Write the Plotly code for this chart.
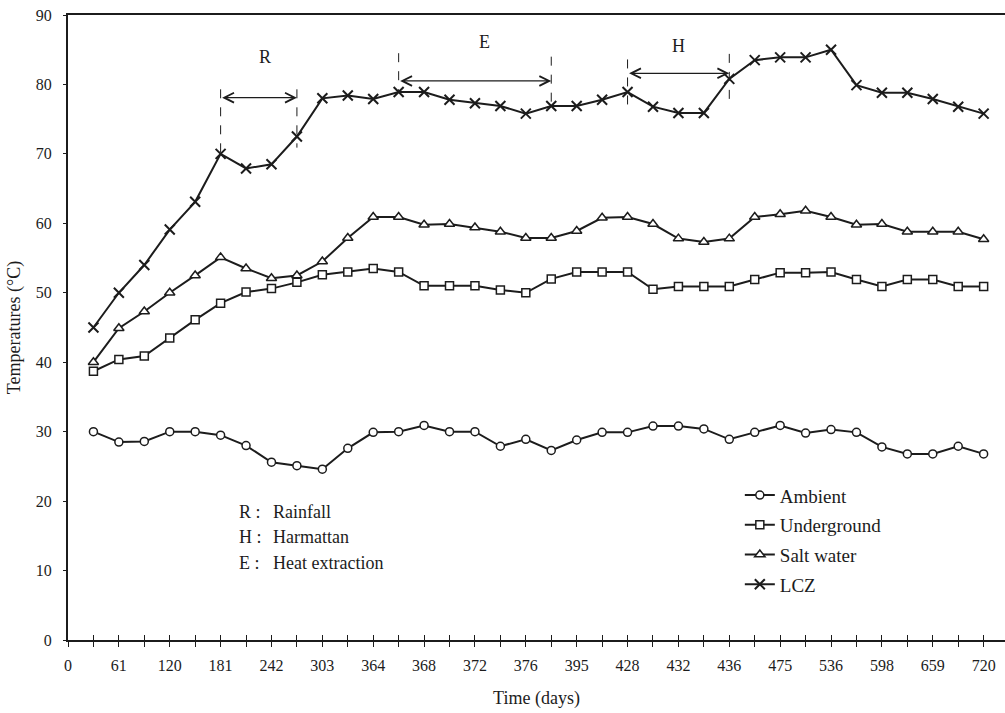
import plotly.graph_objects as go

# ---------------- data ----------------
day_labels = ["0", "61", "120", "181", "242", "303", "364", "368", "372", "376",
              "395", "428", "432", "436", "475", "536", "598", "659", "720"]

ambient = [30.0, 28.5, 28.6, 30.0, 30.0, 29.5, 28.0, 25.6, 25.1, 24.6, 27.6, 29.9,
           30.0, 30.9, 30.0, 30.0, 27.9, 28.9, 27.3, 28.8, 29.9, 29.9, 30.8, 30.8,
           30.4, 28.9, 29.9, 30.9, 29.8, 30.3, 29.9, 27.8, 26.8, 26.8, 27.9, 26.8]
underground = [38.7, 40.4, 40.9, 43.5, 46.1, 48.5, 50.1, 50.6, 51.5, 52.6, 53.0, 53.5,
               53.0, 51.0, 51.0, 51.0, 50.4, 50.0, 52.0, 53.0, 53.0, 53.0, 50.5, 50.9,
               50.9, 50.9, 51.9, 52.9, 52.9, 53.0, 51.9, 50.9, 51.9, 51.9, 50.9, 50.9]
salt_water = [40.0, 44.9, 47.3, 50.0, 52.5, 55.1, 53.5, 52.1, 52.5, 54.5, 57.9, 60.9,
              60.9, 59.8, 59.9, 59.4, 58.8, 57.9, 57.9, 58.9, 60.8, 60.9, 59.9, 57.8,
              57.3, 57.8, 60.9, 61.3, 61.8, 60.9, 59.8, 59.9, 58.8, 58.8, 58.8, 57.7]
lcz = [45.0, 50.0, 54.0, 59.1, 63.1, 70.0, 67.9, 68.5, 72.5, 78.0, 78.4, 77.9,
       78.9, 78.9, 77.8, 77.3, 76.9, 75.8, 76.9, 76.9, 77.8, 78.9, 76.8, 75.9,
       75.9, 80.8, 83.5, 83.9, 83.9, 85.0, 79.9, 78.8, 78.8, 77.9, 76.8, 75.8]

series_names = ["Ambient", "Underground", "Salt water", "LCZ"]

period_keys = ["R", "E", "H"]
period_start = [6, 13, 22]   # sample index where period begins
period_end = [9, 19, 26]     # sample index where period ends

note_keys = ["R", "H", "E"]
note_labels = ["Rainfall", "Harmattan", "Heat extraction"]

# ---------------- figure ----------------
FONT = "Liberation Serif"
INK = "#1c1c1c"

n_ticks = 2 * len(day_labels) - 1
tickvals = list(range(n_ticks))
ticktext = [day_labels[i // 2] if i % 2 == 0 else "" for i in tickvals]
xs = list(range(1, len(ambient) + 1))

fig = go.Figure()

styles = [
    dict(symbol="circle", size=8, color="white", line=dict(color=INK, width=1.5)),
    dict(symbol="square", size=8, color="white", line=dict(color=INK, width=1.5)),
    dict(symbol="triangle-up", size=9, color="white", line=dict(color=INK, width=1.5)),
    dict(symbol="x-thin", size=10, color=INK, line=dict(color=INK, width=2)),
]
for name, vals, mk in zip(series_names, [ambient, underground, salt_water, lcz], styles):
    fig.add_trace(go.Scatter(
        x=xs, y=vals, name=name, mode="lines+markers",
        line=dict(color=INK, width=2), marker=mk, legendgroup=name,
    ))

# invisible trace for the overlay axis (inside tick marks)
fig.add_trace(go.Scatter(x=[None], y=[None], xaxis="x2", showlegend=False,
                         hoverinfo="skip"))

# period markers: dashed verticals, double arrows and labels
arrow_y = [78.1, 80.5, 81.6]
dash_top_start = [79.3, 84.5, 83.6]
dash_top_end = [79.3, 84.0, 84.4]
dash_drop_start = [0.0, 0.0, 2.0]
dash_drop_end = [1.6, 0.0, 3.0]
label_pos = [(7.76, 84.0), (16.37, 86.1), (24.0, 85.6)]

for k, s, e, ay, ts, te, ds, de, (lx, ly) in zip(
        period_keys, period_start, period_end, arrow_y, dash_top_start,
        dash_top_end, dash_drop_start, dash_drop_end, label_pos):
    fig.add_shape(type="line", x0=s, x1=s, y0=ts, y1=lcz[s - 1] - ds,
                  line=dict(color=INK, width=1, dash="dash"))
    fig.add_shape(type="line", x0=e, x1=e, y0=te, y1=lcz[e - 1] - de,
                  line=dict(color=INK, width=1, dash="dash"))
    fig.add_annotation(x=e, y=ay, ax=s, ay=ay, axref="x", ayref="y",
                       xref="x", yref="y", text="", showarrow=True,
                       arrowhead=5, startarrowhead=5, arrowside="end+start",
                       arrowsize=1.6, startarrowsize=1.6, arrowwidth=1.2,
                       arrowcolor=INK)
    fig.add_annotation(x=lx, y=ly, text=k, showarrow=False,
                       font=dict(family=FONT, size=18, color=INK))

# notes
note_y = [18.4, 14.8, 11.1]
for key, lab, ny in zip(note_keys, note_labels, note_y):
    fig.add_annotation(x=6.65, y=ny, text=key + " :", showarrow=False,
                       xanchor="left", font=dict(family=FONT, size=18, color=INK))
    fig.add_annotation(x=8.0, y=ny, text=lab, showarrow=False,
                       xanchor="left", font=dict(family=FONT, size=18, color=INK))

xrange = [0, 36.84]
fig.update_layout(
    width=1005, height=713,
    margin=dict(l=68, r=0, t=15, b=73),
    paper_bgcolor="white", plot_bgcolor="white",
    font=dict(family=FONT, color=INK),
    showlegend=True,
    legend=dict(x=0.717, y=0.262, xanchor="left", yanchor="top",
                font=dict(family=FONT, size=19, color=INK),
                bgcolor="rgba(0,0,0,0)", traceorder="grouped",
                tracegroupgap=2, itemwidth=30),
    xaxis=dict(range=xrange, tickmode="array", tickvals=tickvals,
               ticktext=ticktext, ticks="outside", ticklen=5, tickwidth=1,
               tickcolor=INK, showline=True, linecolor=INK, linewidth=2,
               mirror=True, showgrid=False, zeroline=False,
               tickfont=dict(family=FONT, size=16, color=INK),
               ticklabelstandoff=5,
               title=dict(text="Time (days)", font=dict(family=FONT, size=18),
                          standoff=18)),
    xaxis2=dict(range=xrange, overlaying="x", anchor="y", side="bottom",
                tickmode="array", tickvals=tickvals, ticks="inside", ticklen=5,
                tickwidth=1, tickcolor=INK, showticklabels=False,
                showline=False, showgrid=False, zeroline=False),
    yaxis=dict(range=[0, 90], tickmode="array", tickvals=list(range(0, 91, 10)),
               ticks="outside", ticklen=3, tickwidth=1, tickcolor=INK,
               showline=True, linecolor=INK, linewidth=2, showgrid=False,
               zeroline=False, tickfont=dict(family=FONT, size=16, color=INK),
               ticklabelstandoff=8,
               title=dict(text="Temperatures (°C)", font=dict(family=FONT, size=18),
                          standoff=10)),
)

fig.write_html("out.html")
